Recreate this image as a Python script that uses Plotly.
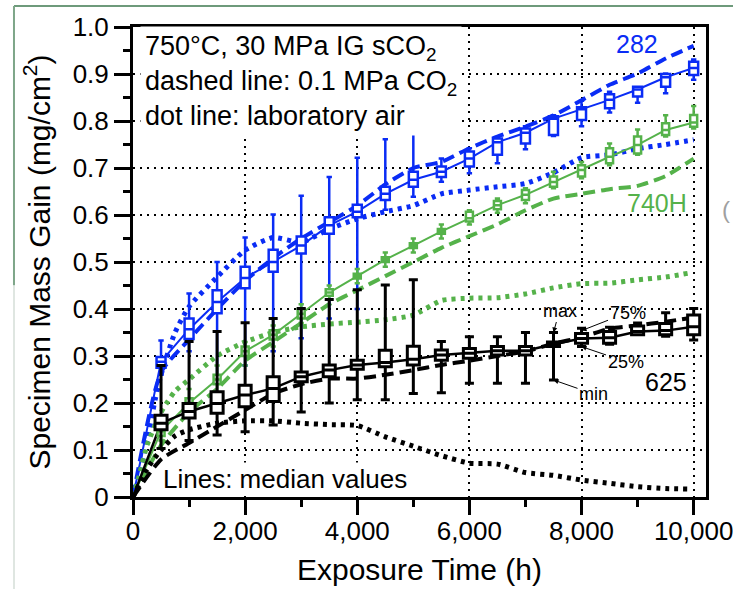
import plotly.graph_objects as go

# ---------------- data ----------------
times = [500, 1000, 1500, 2000, 2500, 3000, 3500, 4000, 4500, 5000,
         5500, 6000, 6500, 7000, 7500, 8000, 8500, 9000, 9500, 10000]
t_start = [0]
v_start = [0.0]

# 282 (blue) box statistics
b282_q1 = [0.275, 0.336, 0.391, 0.444, 0.479, 0.518, 0.560, 0.595, 0.632, 0.660,
           0.681, 0.703, 0.728, 0.752, 0.770, 0.802, 0.827, 0.852, 0.873, 0.898]
b282_med = [0.288, 0.357, 0.415, 0.466, 0.500, 0.535, 0.578, 0.607, 0.645, 0.675,
            0.692, 0.720, 0.755, 0.775, 0.805, 0.825, 0.845, 0.867, 0.893, 0.913]
b282_q3 = [0.298, 0.380, 0.440, 0.490, 0.526, 0.554, 0.595, 0.622, 0.660, 0.692,
           0.703, 0.735, 0.763, 0.784, 0.810, 0.829, 0.857, 0.873, 0.900, 0.926]
b282_min = [0.260, 0.310, 0.242, 0.280, 0.310, 0.338, 0.380, 0.400, 0.611, 0.639,
            0.671, 0.689, 0.710, 0.740, 0.768, 0.789, 0.818, 0.839, 0.859, 0.888]
b282_max = [0.333, 0.433, 0.500, 0.552, 0.601, 0.641, 0.681, 0.722, 0.761, 0.791,
            0.720, 0.742, 0.765, 0.789, 0.812, 0.843, 0.862, 0.873, 0.901, 0.931]

# 740H (green) box statistics
g740_q1 = [0.130, 0.190, 0.240, 0.300, 0.335, 0.380, 0.428, 0.465, 0.500, 0.530,
           0.560, 0.586, 0.612, 0.632, 0.660, 0.682, 0.710, 0.731, 0.770, 0.788]
g740_med = [0.140, 0.200, 0.250, 0.310, 0.345, 0.390, 0.435, 0.470, 0.505, 0.535,
            0.565, 0.593, 0.621, 0.643, 0.670, 0.696, 0.724, 0.749, 0.781, 0.797]
g740_q3 = [0.150, 0.210, 0.260, 0.320, 0.355, 0.400, 0.442, 0.475, 0.510, 0.540,
           0.570, 0.607, 0.630, 0.653, 0.682, 0.706, 0.742, 0.767, 0.795, 0.813]
g740_min = [0.120, 0.170, 0.220, 0.280, 0.320, 0.370, 0.420, 0.455, 0.490, 0.520,
            0.550, 0.580, 0.605, 0.625, 0.657, 0.678, 0.706, 0.728, 0.767, 0.784]
g740_max = [0.160, 0.230, 0.280, 0.330, 0.365, 0.410, 0.450, 0.485, 0.520, 0.550,
            0.580, 0.610, 0.635, 0.657, 0.692, 0.713, 0.752, 0.782, 0.812, 0.832]

# 625 (black) box statistics
b625_q1 = [0.143, 0.168, 0.178, 0.192, 0.203, 0.245, 0.256, 0.272, 0.277, 0.281,
           0.291, 0.295, 0.302, 0.302, 0.320, 0.327, 0.327, 0.345, 0.345, 0.345]
b625_med = [0.157, 0.182, 0.199, 0.217, 0.231, 0.256, 0.270, 0.281, 0.286, 0.293,
            0.302, 0.306, 0.311, 0.311, 0.325, 0.337, 0.339, 0.352, 0.354, 0.362]
b625_q3 = [0.174, 0.199, 0.224, 0.238, 0.256, 0.266, 0.281, 0.291, 0.312, 0.321,
           0.313, 0.316, 0.320, 0.320, 0.330, 0.348, 0.352, 0.364, 0.369, 0.387]
b625_min = [0.103, 0.120, 0.132, 0.139, 0.153, 0.181, 0.200, 0.207, 0.207, 0.220,
            0.222, 0.242, 0.242, 0.242, 0.249, 0.320, 0.325, 0.345, 0.342, 0.334]
b625_max = [0.280, 0.331, 0.352, 0.371, 0.380, 0.401, 0.420, 0.441, 0.451, 0.462,
            0.331, 0.341, 0.341, 0.350, 0.350, 0.359, 0.361, 0.370, 0.392, 0.401]

# 0.1 MPa CO2 (dashed), median values at t_start + times
co2_282 = [0.0, 0.265, 0.335, 0.400, 0.460, 0.508, 0.550, 0.585, 0.620, 0.665, 0.700,
           0.713, 0.742, 0.767, 0.788, 0.812, 0.844, 0.877, 0.901, 0.933, 0.960]
co2_740 = [0.0, 0.110, 0.180, 0.230, 0.290, 0.330, 0.370, 0.410, 0.440, 0.470, 0.500,
           0.530, 0.555, 0.580, 0.610, 0.635, 0.645, 0.655, 0.662, 0.683, 0.720]
co2_625 = [0.0, 0.080, 0.115, 0.150, 0.185, 0.220, 0.240, 0.252, 0.252, 0.260, 0.270,
           0.281, 0.290, 0.300, 0.310, 0.326, 0.340, 0.358, 0.365, 0.373, 0.382]

# laboratory air (dotted)
air_t_282 = [0, 100, 250, 400, 500, 750, 1000, 1500, 2000, 2500, 3000, 3500, 4000,
             4500, 5000, 5500, 6000, 6500, 7000, 7500, 8000, 8500, 9000, 9500, 10000]
air_282 = [0.0, 0.04, 0.12, 0.21, 0.26, 0.35, 0.405, 0.468, 0.525, 0.552, 0.542, 0.570,
           0.592, 0.607, 0.620, 0.645, 0.653, 0.660, 0.667, 0.690, 0.722, 0.728, 0.741,
           0.750, 0.760]
air_t_740 = [0, 100, 250, 500, 750, 1000, 1500, 2000, 2500, 3000, 3500, 4000, 4500,
             5000, 5500, 6000, 6500, 7000, 7500, 8000, 8500, 9000, 9500, 9900]
air_740 = [0.0, 0.04, 0.11, 0.18, 0.225, 0.25, 0.30, 0.33, 0.35, 0.362, 0.368, 0.372,
           0.377, 0.387, 0.418, 0.423, 0.424, 0.432, 0.445, 0.454, 0.455, 0.462, 0.468,
           0.476]
air_t_625 = [0, 250, 500, 750, 1000, 1500, 2000, 2500, 3000, 3500, 4000, 4500, 5000,
             5500, 6000, 6500, 7000, 7500, 8000, 8500, 9000, 9500, 9900]
air_625 = [0.0, 0.06, 0.10, 0.13, 0.143, 0.157, 0.162, 0.162, 0.157, 0.154, 0.152,
           0.128, 0.108, 0.088, 0.072, 0.070, 0.052, 0.046, 0.036, 0.029, 0.022, 0.018,
           0.017]

x_tick_vals = [0, 2000, 4000, 6000, 8000, 10000]
x_tick_text = ["0", "2,000", "4,000", "6,000", "8,000", "10,000"]
x_minor_vals = [1000, 3000, 5000, 7000, 9000]
y_tick_vals = [0, 0.1, 0.2, 0.3, 0.4, 0.5, 0.6, 0.7, 0.8, 0.9, 1.0]
y_tick_text = ["0", "0.1", "0.2", "0.3", "0.4", "0.5", "0.6", "0.7", "0.8", "0.9", "1.0"]
y_minor_vals = [0.05, 0.15, 0.25, 0.35, 0.45, 0.55, 0.65, 0.75, 0.85, 0.95]

# ---------------- styles ----------------
BLUE = "#0a2cf5"
GREEN = "#55b24a"
BLACK = "#000000"
FONT = "Liberation Sans, Arial, Helvetica, sans-serif"
DASH = "12px,6px"
DOT = "4px,5px"
X_RANGE = [0, 10220]
Y_RANGE = [0, 1.0]

fig = go.Figure()

t_line = t_start + times

series = [
    (BLUE, air_t_282, air_282, co2_282, b282_med, b282_q1, b282_q3, b282_min, b282_max, 160, 2.0, 0.6),
    (GREEN, air_t_740, air_740, co2_740, g740_med, g740_q1, g740_q3, g740_min, g740_max, 125, 2.0, 0.75),
    (BLACK, air_t_625, air_625, co2_625, b625_med, b625_q1, b625_q3, b625_min, b625_max, 215, 2.5, 0.75),
]

for color, at, av, co2, med, q1, q3, mn, mx, bw, lw, ww in series:
    fig.add_trace(go.Scatter(x=at, y=av, mode="lines",
                             line=dict(color=color, width=5, dash=DOT, shape="spline", smoothing=0.6),
                             hoverinfo="skip"))
    fig.add_trace(go.Scatter(x=t_line, y=co2, mode="lines",
                             line=dict(color=color, width=4, dash=DASH, shape="spline", smoothing=0.6),
                             hoverinfo="skip"))
    fig.add_trace(go.Scatter(x=t_line, y=v_start + med, mode="lines",
                             line=dict(color=color, width=lw), hoverinfo="skip"))

# boxes on an overlaying (hidden) axis pair so they are drawn above the lines
for color, at, av, co2, med, q1, q3, mn, mx, bw, lw, ww in series:
    fig.add_trace(go.Box(x=times, q1=q1, median=med, q3=q3, lowerfence=mn, upperfence=mx,
                         boxpoints=False, width=bw, whiskerwidth=ww, xaxis="x2", yaxis="y2",
                         line=dict(color=color, width=lw + 0.5), fillcolor="white"))

# ---------------- annotations ----------------
ann = []
ann.append(dict(xref="paper", yref="paper", x=0.012, y=0.885, xanchor="left", yanchor="middle",
                align="left", showarrow=False, bgcolor="white", borderpad=4,
                text="750°C, 30 MPa IG sCO<sub>2</sub><br>dashed line: 0.1 MPa CO<sub>2</sub><br>dot line: laboratory air",
                font=dict(size=27, color="black", family=FONT)))
ann.append(dict(x=8984, y=0.964, text="282", showarrow=False, font=dict(size=25, color=BLUE, family=FONT)))
ann.append(dict(x=9340, y=0.626, text="740H", showarrow=False, font=dict(size=25, color=GREEN, family=FONT)))
ann.append(dict(x=9500, y=0.245, text="625", showarrow=False, font=dict(size=25, color="black", family=FONT)))
ann.append(dict(x=2710, y=0.038, text="Lines: median values", showarrow=False, bgcolor="white",
                font=dict(size=26, color="black", family=FONT)))
small = dict(size=18, color="black", family=FONT)
arrow = dict(showarrow=True, arrowhead=2, arrowsize=1, arrowwidth=1, arrowcolor="black")
ann.append(dict(x=times[14], y=b625_max[14], ax=6, ay=-22, text="max", font=small, **arrow))
ann.append(dict(x=times[15], y=b625_q3[15] + 0.006, ax=46, ay=-18, text="75%", font=small, **arrow))
ann.append(dict(x=times[15], y=b625_q1[15] - 0.007, ax=44, ay=15, text="25%", font=small, **arrow))
ann.append(dict(x=times[14], y=b625_min[14], ax=40, ay=14, text="min", font=small, **arrow))
ann.append(dict(xref="paper", yref="paper", x=1.024, y=0.611, xanchor="left", text="(",
                showarrow=False, font=dict(size=24, color="#a0a0a0", family=FONT)))

# green frame of the source picture
shapes = [
    dict(type="line", xref="paper", yref="paper", x0=-0.2077, x1=1.1, y0=1.0447, y1=1.0447,
         line=dict(color="#6e9a7b", width=2)),
    dict(type="line", xref="paper", yref="paper", x0=-0.2077, x1=-0.2077, y0=1.0447, y1=0.45,
         line=dict(color="#7ea689", width=2)),
    dict(type="line", xref="paper", yref="paper", x0=-0.2077, x1=-0.2077, y0=0.45, y1=-0.2,
         line=dict(color="#dfe6e1", width=2)),
]

fig.update_layout(
    template="none",
    width=733, height=589,
    margin=dict(l=133, r=27, t=27, b=92, autoexpand=False),
    plot_bgcolor="white", paper_bgcolor="white",
    showlegend=False, boxmode="overlay",
    font=dict(family=FONT, color="black", size=26),
    annotations=ann, shapes=shapes,
    xaxis2=dict(overlaying="x", range=X_RANGE, visible=False, showgrid=False, zeroline=False),
    yaxis2=dict(overlaying="y", range=Y_RANGE, visible=False, showgrid=False, zeroline=False),
)
fig.layout.xaxis.update(
    automargin=False, ticklabeloverflow="allow", ticklabelstandoff=-6,
    range=X_RANGE, tickmode="array", tickvals=x_tick_vals, ticktext=x_tick_text,
    ticks="outside", ticklen=15, tickwidth=3, tickcolor="black",
    showline=True, linewidth=3, linecolor="black", mirror=True, zeroline=False,
    showgrid=True, gridcolor="black", gridwidth=1.5, griddash="2px,5px",
    tickfont=dict(size=26, family=FONT),
    minor=dict(tickvals=x_minor_vals, ticks="outside", ticklen=7, tickwidth=2.5, tickcolor="black", showgrid=False),
    title=dict(text="Exposure Time (h)", font=dict(size=30, family=FONT), standoff=14),
)
fig.layout.yaxis.update(
    automargin=False, ticklabeloverflow="allow",
    range=Y_RANGE, tickmode="array", tickvals=y_tick_vals, ticktext=y_tick_text,
    ticks="outside", ticklen=16, tickwidth=3, tickcolor="black",
    showline=True, linewidth=3, linecolor="black", mirror=True, zeroline=False,
    showgrid=True, gridcolor="black", gridwidth=1.5, griddash="2px,5px",
    tickfont=dict(size=26, family=FONT),
    minor=dict(tickvals=y_minor_vals, ticks="outside", ticklen=7, tickwidth=2.5, tickcolor="black", showgrid=False),
    title=dict(text="Specimen Mass Gain (mg/cm<sup>2</sup>)", font=dict(size=30, family=FONT), standoff=14),
)

fig.write_html("out.html")
